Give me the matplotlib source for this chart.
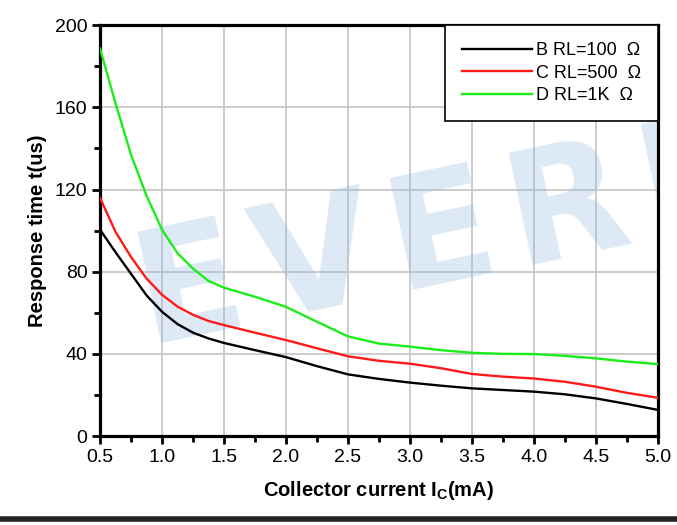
import numpy as np
import matplotlib.pyplot as plt
from matplotlib.ticker import MultipleLocator
from matplotlib.lines import Line2D

plt.rcParams['font.family'] = ['Liberation Sans', 'DejaVu Sans']
plt.rcParams['mathtext.fontset'] = 'custom'
plt.rcParams['mathtext.rm'] = 'Liberation Sans'
plt.rcParams['mathtext.bf'] = 'Liberation Sans:bold'

# collector current (mA)
ic = [0.5, 0.625, 0.75, 0.875, 1.0, 1.125, 1.25, 1.375, 1.5, 1.75, 2.0, 2.25,
      2.5, 2.75, 3.0, 3.25, 3.5, 3.75, 4.0, 4.25, 4.5, 4.75, 5.0]
# response time (us)
t_100 = [100.5, 89.5, 79, 68.5, 60.5, 54.5, 50.3, 47.5, 45.3, 41.8, 38.4, 34.0,
         30.0, 27.8, 26.0, 24.5, 23.2, 22.4, 21.6, 20.3, 18.3, 15.6, 12.7]
t_500 = [116, 99.4, 87.2, 76.7, 68.8, 63.0, 59.0, 56.0, 54.0, 50.3, 46.7, 42.7,
         38.8, 36.6, 35.2, 33.0, 30.2, 28.9, 28.0, 26.4, 24.0, 21.0, 18.6]
t_1k = [188.7, 162, 137, 117, 100.5, 89, 81.5, 75.5, 72.2, 67.8, 62.9, 55.6,
        48.5, 45.0, 43.5, 41.8, 40.5, 40.0, 39.9, 39.0, 37.8, 36.2, 35.0]
labels = ['B RL=100  \u03a9', 'C RL=500  \u03a9', 'D RL=1K  \u03a9']
colors = ['black', '#ff1a1a', '#1aee1a']

fig = plt.figure(figsize=(6.77, 5.25), dpi=100)
ax = fig.add_axes([0.1477, 0.1695, 0.8243, 0.7825])

# watermark
ax.text(0.88, 44, '\u200a'.join('EVERLIGHT'), family='DejaVu Sans',
        fontsize=112, fontweight='bold', color='#8fb6dd', alpha=0.3,
        rotation=12, rotation_mode='anchor', ha='left', va='baseline',
        zorder=2, clip_on=True)

for y, lab, c in zip([t_100, t_500, t_1k], labels, colors):
    ax.plot(ic, y, color=c, lw=1.7, label=lab, zorder=3)

ax.set_xlim(0.5, 5.0)
ax.set_ylim(0, 200)
ax.xaxis.set_major_locator(MultipleLocator(0.5))
ax.xaxis.set_minor_locator(MultipleLocator(0.25))
ax.yaxis.set_major_locator(MultipleLocator(40))
ax.yaxis.set_minor_locator(MultipleLocator(20))
ax.xaxis.set_major_formatter(plt.FormatStrFormatter('%.1f'))
ax.grid(True, which='major', color='#c8c8c8', lw=1.3, zorder=1)
ax.set_axisbelow(True)
for s in ax.spines.values():
    s.set_linewidth(2.3)
ax.tick_params(which='major', length=6, width=2, labelsize=14, pad=3)
ax.tick_params(which='minor', length=4, width=2)

ax.set_xlabel(r'Collector current I$_{\mathregular{C}}$(mA)', fontsize=14.5,
              fontweight='bold', labelpad=10)
ax.set_ylabel('Response time t(us)', fontsize=14.5, fontweight='bold', labelpad=6)

leg = ax.legend(loc='upper right', fontsize=13, frameon=True, fancybox=False,
                borderaxespad=0, handlelength=3.9, handletextpad=0.2,
                labelspacing=0.3, borderpad=0.95, framealpha=1)
leg.get_frame().set_edgecolor('black')
leg.get_frame().set_linewidth(1.2)

fig.add_artist(Line2D([0, 1], [0.012, 0.012], color='#222222', lw=4))

fig.savefig('out.png', dpi=100)
